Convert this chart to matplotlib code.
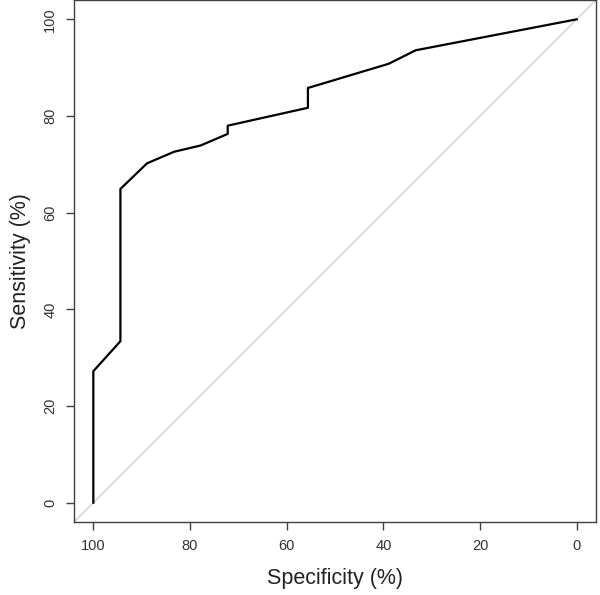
import matplotlib
matplotlib.use("Agg")
import matplotlib.pyplot as plt

# ROC curve points (percent)
specificity = [100, 100, 94.4, 94.4, 88.9, 83.3, 77.8, 72.2, 72.2, 55.6, 55.6, 38.9, 33.3, 0]
sensitivity = [0, 27.2, 33.4, 64.9, 70.2, 72.6, 73.9, 76.3, 78.0, 81.7, 85.8, 90.8, 93.6, 100]

x_ticks = [100, 80, 60, 40, 20, 0]
y_ticks = [0, 20, 40, 60, 80, 100]

plt.rcParams['font.family'] = ['Liberation Sans', 'DejaVu Sans']

fig = plt.figure(figsize=(6, 5.95), dpi=100)
ax = fig.add_axes([74 / 600, (595 - 522) / 595, 522 / 600, 522 / 595])

# chance diagonal across the whole box
ax.plot([104, -4], [-4, 104], color='#c8c8c8', lw=0.8, zorder=1)
ax.plot(specificity, sensitivity, color='black', lw=1.6, zorder=2)

ax.set_xlim(104, -4)
ax.set_ylim(-4, 104)
ax.set_xticks(x_ticks)
ax.set_yticks(y_ticks)
ax.set_xticklabels([str(v) for v in x_ticks])
ax.set_yticklabels([str(v) for v in y_ticks], rotation=90, va='center')

for sp in ax.spines.values():
    sp.set_color('#404040')
    sp.set_linewidth(1.0)

ax.tick_params(axis='both', direction='out', length=6, width=1.0,
               color='#404040', labelsize=10.5, labelcolor='#333333', pad=6)

ax.set_xlabel('Specificity (%)', fontsize=15.5, color='#222222', labelpad=11)
ax.set_ylabel('Sensitivity (%)', fontsize=15.5, color='#222222', labelpad=9)

fig.savefig('out.png', dpi=100)
